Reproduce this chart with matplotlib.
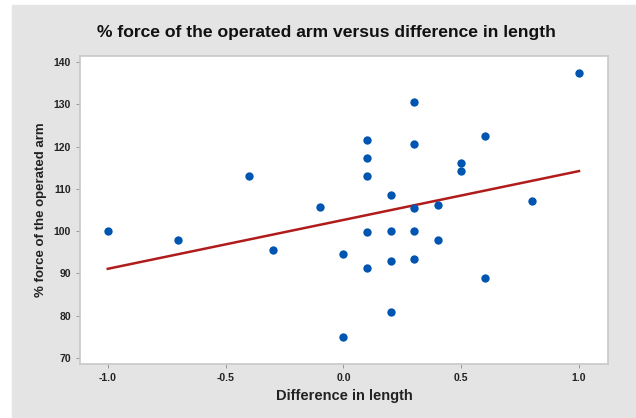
import matplotlib
matplotlib.use("Agg")
import matplotlib.pyplot as plt
from matplotlib.patches import Rectangle

plt.rcParams["font.family"] = ["Liberation Sans", "DejaVu Sans"]

# % force of the operated arm vs difference in length
diff_len = [-1.0, -0.7, -0.4, -0.3, -0.1, 0.0, 0.0,
            0.1, 0.1, 0.1, 0.1, 0.1,
            0.2, 0.2, 0.2, 0.2,
            0.3, 0.3, 0.3, 0.3, 0.3,
            0.4, 0.4, 0.5, 0.5, 0.6, 0.6, 0.8, 1.0]
force_pct = [100.0, 98.0, 113.0, 95.6, 105.8, 94.7, 75.0,
             121.5, 117.3, 113.0, 99.9, 91.2,
             108.6, 100.0, 92.9, 80.9,
             130.6, 120.7, 105.5, 100.0, 93.5,
             106.1, 97.8, 116.1, 114.3, 122.5, 88.9, 107.1, 137.3]
# fitted line end points as drawn in the picture
fit_x = [-1.0, 1.0]
fit_y = [91.1, 114.2]
x_ticks = [-1.0, -0.5, 0.0, 0.5, 1.0]
y_ticks = [70, 80, 90, 100, 110, 120, 130, 140]

W, H = 636, 418
fig = plt.figure(figsize=(W / 100, H / 100), dpi=100, facecolor="white")
bg = Rectangle((12 / W, 0), 1 - 12 / W, 1 - 5 / H,
               transform=fig.transFigure, color="#e4e4e4", zorder=-10)
fig.add_artist(bg)
ax = fig.add_axes([80 / W, 1 - 364 / H, 528 / W, 308 / H])
ax.set_facecolor("white")

ax.scatter(diff_len, force_pct, s=36, color="#0055b0", zorder=3, linewidths=0)
ax.plot(fit_x, fit_y, color="#b01c1c", lw=1.8, zorder=2)

ax.set_xlim(-1.118, 1.123)
ax.set_ylim(68.6, 141.4)
ax.set_xticks(x_ticks)
ax.set_xticklabels([f"{v:.1f}" for v in x_ticks])
ax.set_yticks(y_ticks)
for sp in ax.spines.values():
    sp.set_color("#c8c8c8")
    sp.set_linewidth(1.2)
ax.tick_params(labelsize=7.5, colors="#999999", labelcolor="#222222",
               length=3, width=0.7)
for lab in ax.get_xticklabels() + ax.get_yticklabels():
    lab.set_fontweight("bold")

ax.set_xlabel("Difference in length", fontsize=10.5, color="#222222", labelpad=4,
              fontweight="bold")
ax.set_ylabel("% force of the operated arm", fontsize=9.5, color="#222222", labelpad=5,
              fontweight="bold")
fig.text(0.5 + 8 / W, 1 - 33 / H, "% force of the operated arm versus difference in length",
         ha="center", va="center", fontsize=12.6, color="#111111", fontweight="bold")

fig.savefig("out.png", dpi=100, facecolor=fig.get_facecolor())
